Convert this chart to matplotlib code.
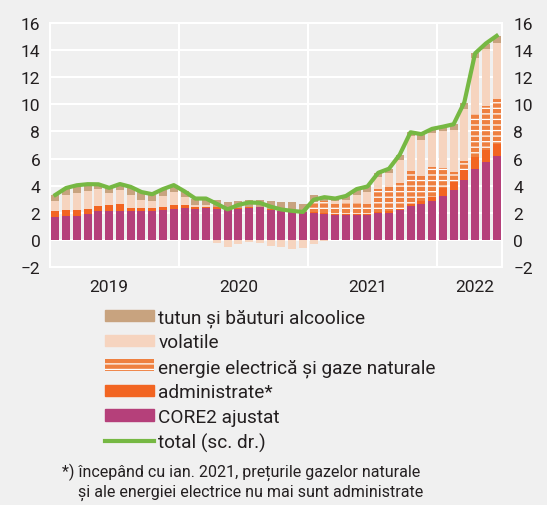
import numpy as np
import matplotlib
matplotlib.use('Agg')
import matplotlib.pyplot as plt
from matplotlib.patches import Patch
from matplotlib.lines import Line2D

plt.rcParams['font.family'] = ['Roboto', 'DejaVu Sans']
plt.rcParams['hatch.linewidth'] = 0.9

# Monatsdaten Jan 2019 - Jun 2022 (Beiträge, Prozentpunkte)
years = ['2019', '2020', '2021', '2022']

core = [1.66, 1.73, 1.73, 1.92, 2.10, 2.10, 2.15, 2.15, 2.10, 2.15, 2.22, 2.29,
        2.34, 2.29, 2.34, 2.29, 2.20, 2.29, 2.36, 2.39, 2.22, 2.10, 2.08, 2.03,
        1.97, 1.92, 1.80, 1.85, 1.85, 1.80, 1.97, 2.02, 2.22, 2.47, 2.64, 2.88,
        3.21, 3.65, 4.39, 5.23, 5.72, 6.17]
adm = [0.49, 0.49, 0.49, 0.37, 0.39, 0.44, 0.49, 0.19, 0.24, 0.19, 0.22, 0.25,
       0.20, 0.15, 0.12, 0.10, 0.05, 0.03, 0.05, 0.05, 0.03, 0.02, 0.00, 0.00,
       0.08, 0.08, 0.08, 0.08, 0.08, 0.10, 0.08, 0.08, 0.08, 0.17, 0.20, 0.26,
       0.61, 0.60, 0.79, 0.86, 0.89, 0.91]
energy = [0, 0, 0, 0, 0, 0, 0, 0, 0, 0, 0, 0,
          0, 0, 0, 0, 0, 0, 0, 0, 0, 0, 0, 0,
          0.75, 0.90, 0.76, 0.78, 0.78, 0.74, 1.72, 1.77, 1.89, 2.46, 1.85, 2.22,
          1.48, 0.75, 0.66, 3.21, 3.26, 3.28]
vol = [0.73, 1.11, 1.23, 1.33, 1.28, 0.91, 1.04, 0.99, 0.62, 0.50, 0.77, 0.99,
       0.60, 0.16, 0.14, -0.25, -0.52, -0.30, -0.15, -0.20, -0.42, -0.55, -0.67, -0.58,
       -0.30, -0.07, 0.20, 0.25, 0.62, 0.88, 0.84, 1.06, 1.73, 2.54, 2.71, 2.53,
       2.72, 3.14, 3.85, 4.14, 4.18, 4.19]
tob = [0.45, 0.44, 0.55, 0.45, 0.30, 0.37, 0.40, 0.55, 0.55, 0.50, 0.50, 0.50,
       0.45, 0.45, 0.45, 0.52, 0.52, 0.56, 0.50, 0.49, 0.62, 0.67, 0.73, 0.61,
       0.50, 0.32, 0.20, 0.28, 0.42, 0.42, 0.34, 0.32, 0.37, 0.30, 0.40, 0.30,
       0.33, 0.39, 0.42, 0.35, 0.42, 0.50]
total = [3.32, 3.83, 4.03, 4.11, 4.10, 3.84, 4.12, 3.91, 3.53, 3.37, 3.75, 4.04,
         3.58, 3.05, 3.05, 2.66, 2.25, 2.58, 2.76, 2.73, 2.45, 2.24, 2.14, 2.06,
         2.96, 3.15, 3.05, 3.24, 3.75, 3.94, 4.95, 5.25, 6.29, 7.94, 7.80, 8.19,
         8.35, 8.53, 10.15, 13.76, 14.49, 15.05]

labels = ['tutun și băuturi alcoolice', 'volatile', 'energie electrică și gaze naturale',
          'administrate*', 'CORE2 ajustat', 'total (sc. dr.)']

c_core = '#B5407A'
c_adm = '#F26522'
c_energy = '#EE8040'
c_vol = '#F6D4BF'
c_tob = '#C8A37F'
c_line = '#76B843'
bg = '#F0F0F0'
txt = '#231F20'

fig = plt.figure(figsize=(5.47, 5.06), dpi=100, facecolor=bg)
ax = fig.add_axes([50 / 547, 1 - 268 / 506, 452 / 547, 244 / 506])
ax.set_facecolor(bg)

x = np.arange(len(total))
pos = np.zeros(len(x))
neg = np.zeros(len(x))

# gestapelte Balken, positive nach oben, negative nach unten
for vals, col, hatch in [(core, c_core, None), (adm, c_adm, None), (energy, c_energy, '---'),
                         (vol, c_vol, None), (tob, c_tob, None)]:
    v = np.array(vals)
    bottom = np.where(v >= 0, pos, neg)
    ax.bar(x, v, bottom=bottom, width=0.74, color=col, hatch=hatch,
           edgecolor='white' if hatch else col, linewidth=0, zorder=3)
    pos += np.clip(v, 0, None)
    neg += np.clip(v, None, 0)

ax.plot(x, total, color=c_line, linewidth=3, zorder=4, solid_joinstyle='round')

ax.set_xlim(-0.5, len(x) - 0.5)
ax.set_ylim(-2, 16)
ax.set_yticks(range(-2, 17, 2))
ax.grid(axis='y', color='white', linewidth=1.5, zorder=1)
for b in [11.5, 23.5, 35.5]:
    ax.axvline(b, color='white', linewidth=1.5, zorder=1)
for s in ax.spines.values():
    s.set_color('white')
    s.set_linewidth(1.5)

ax.set_xticks([5, 17, 29, 39])
ax.set_xticklabels(years)
ax.tick_params(axis='both', length=0, labelsize=12.5, colors=txt, pad=7)
ax.tick_params(axis='x', pad=9)

ax2 = ax.twinx()
ax2.set_ylim(-2, 16)
ax2.set_yticks(range(-2, 17, 2))
ax2.tick_params(axis='y', length=0, labelsize=12.5, colors=txt, pad=8)
for s in ax2.spines.values():
    s.set_visible(False)

# Legende
handles = [Patch(facecolor=c_tob, edgecolor=c_tob),
           Patch(facecolor=c_vol, edgecolor=c_vol),
           Patch(facecolor=c_energy, edgecolor='white', hatch='---', linewidth=0),
           Patch(facecolor=c_adm, edgecolor=c_adm),
           Patch(facecolor=c_core, edgecolor=c_core),
           Line2D([0], [0], color=c_line, linewidth=3)]
leg = fig.legend(handles, labels, loc='upper left', bbox_to_anchor=(105 / 547, 1 - 309 / 506),
                 frameon=False, fontsize=13.7, handlelength=2.55, handleheight=0.55,
                 handletextpad=0.25, labelspacing=0.35, borderpad=0, borderaxespad=0)
for t in leg.get_texts():
    t.set_color(txt)

fig.text(62 / 547, 1 - 472 / 506, '*) începând cu ian. 2021, prețurile gazelor naturale',
         fontsize=11.5, color=txt, va='center')
fig.text(78 / 547, 1 - 493 / 506, 'și ale energiei electrice nu mai sunt administrate',
         fontsize=11.5, color=txt, va='center')

fig.savefig('out.png', dpi=100, facecolor=bg)
